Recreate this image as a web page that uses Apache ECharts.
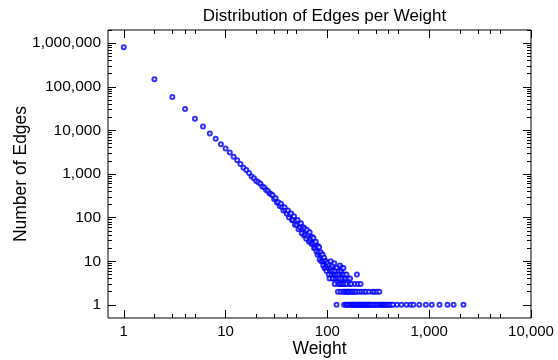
<!DOCTYPE html>
<html>
<head>
<meta charset="utf-8">
<script src="https://cdn.jsdelivr.net/npm/echarts@6/dist/echarts.min.js"></script>
<style>
  html, body { margin: 0; padding: 0; background: #fff; }
  #chart { width: 558px; height: 360px; }
</style>
</head>
<body>
<div id="chart"></div>
<script>
// weight of an edge -> number of edges with that weight
const weights = [
  1, 2, 3, 4, 5, 6, 7, 8, 9, 10, 11, 12, 13, 14, 15, 16, 17, 18, 19, 20,
  21, 22, 23, 24, 25, 26, 27, 28, 29, 30, 31, 32, 33, 34, 35, 36, 37, 38, 39, 40,
  41, 42, 43, 44, 45, 46, 47, 48, 49, 50, 51, 52, 53, 54, 55, 56, 57, 58, 59, 60,
  61, 62, 63, 64, 65, 66, 67, 68, 69, 70, 71, 72, 73, 74, 75, 76, 77, 78, 79, 80,
  81, 82, 83, 84, 85, 86, 87, 88, 89, 90, 91, 92, 93, 94, 95, 96, 97, 98, 99, 100,
  101, 102, 103, 104, 105, 106, 107, 108, 109, 110, 111, 112, 113, 114, 115, 116, 117, 118, 119, 120,
  121, 122, 123, 124, 125, 126, 127, 128, 129, 130, 131, 132, 133, 134, 135, 136, 137, 138, 139, 140,
  141, 142, 143, 144, 145, 146, 147, 148, 149, 150, 151, 152, 153, 154, 155, 156, 157, 158, 160, 161,
  163, 164, 166, 167, 168, 170, 172, 173, 175, 176, 178, 180, 182, 184, 186, 187, 189, 191, 193, 195,
  196, 199, 200, 202, 204, 206, 209, 212, 213, 216, 218, 221, 224, 228, 231, 234, 238, 240, 243, 247,
  251, 255, 257, 260, 265, 270, 277, 280, 285, 290, 296, 302, 307, 312, 318, 324, 330, 337, 345, 352,
  360, 368, 377, 387, 398, 410, 425, 442, 483, 533, 599, 658, 700, 799, 927, 1060, 1262, 1514, 1737, 2170
];
const edges = [
  809000, 148000, 58000, 31000, 18500, 12200, 8500, 6400, 4800, 3850, 3100, 2500, 2080, 1700, 1400, 1230, 1050, 880, 800, 690,
  650, 600, 520, 490, 430, 410, 360, 345, 324, 269, 281, 221, 225, 185, 209, 172, 145, 172, 144, 122,
  145, 101, 118, 124, 87, 89, 107, 69, 84, 68, 88, 54, 72, 59, 74, 44, 54, 60, 39, 56,
  40, 33, 52, 38, 42, 28, 46, 29, 33, 25, 36, 26, 34, 20, 26, 20, 28, 17, 22, 14,
  22, 16, 21, 11, 14, 16, 10, 14, 10, 14, 8, 10, 12, 7, 10, 7, 10, 6, 8, 9,
  9, 7, 5, 8, 4, 7, 6, 10, 7, 5, 6, 8, 4, 4, 6, 5, 9, 3, 5, 6,
  4, 5, 1, 7, 4, 5, 2, 3, 6, 4, 5, 3, 8, 4, 2, 6, 3, 5, 7, 3,
  4, 5, 2, 7, 3, 1, 5, 2, 4, 3, 4, 1, 2, 5, 3, 1, 2, 1, 4, 2,
  2, 1, 3, 4, 1, 2, 3, 1, 2, 1, 1, 2, 1, 1, 3, 2, 1, 1, 2, 5,
  1, 3, 1, 1, 2, 1, 1, 3, 1, 2, 1, 1, 1, 2, 1, 1, 1, 2, 1, 1,
  1, 1, 2, 1, 1, 1, 2, 1, 1, 2, 1, 1, 2, 1, 1, 2, 1, 1, 1, 1,
  1, 1, 1, 1, 1, 1, 1, 1, 1, 1, 1, 1, 1, 1, 1, 1, 1, 1, 1, 1
];

const xMajor = [1, 10, 100, 1000, 10000];
const xMinor = [2, 3, 4, 5, 20, 30, 40, 50, 200, 300, 400, 500, 2000, 3000, 4000, 5000];
const yMajor = [1, 10, 100, 1000, 10000, 100000, 1000000];
const yMinor = [];
for (let d = 1; d <= 1000000; d *= 10) {
  for (let k = 2; k <= 9; k++) yMinor.push(k * d);
}

const font = 'Liberation Sans';
const fmt = v => String(Math.round(v)).replace(/\B(?=(\d{3})+(?!\d))/g, ',');

const chart = echarts.init(document.getElementById('chart'));

function xAx(pos, ticks, len, withLabels) {
  return {
    type: 'log', position: pos, min: 0.7, max: 10000,
    axisLine: { show: false },
    splitLine: { show: false },
    axisTick: { show: true, inside: true, length: len, customValues: ticks, lineStyle: { color: '#000' } },
    axisLabel: withLabels
      ? { show: true, customValues: xMajor, formatter: fmt, color: '#000', fontSize: 15, fontFamily: font, margin: 6 }
      : { show: false },
    name: withLabels ? 'Weight' : '',
    nameLocation: 'middle', nameGap: 22, nameMoveOverlap: false,
    nameTextStyle: { color: '#000', fontSize: 17.5, fontFamily: font }
  };
}
function yAx(pos, ticks, len, withLabels) {
  return {
    type: 'log', position: pos, min: 0.5, max: 2000000,
    axisLine: { show: false },
    splitLine: { show: false },
    axisTick: { show: true, inside: true, length: len, customValues: ticks, lineStyle: { color: '#000' } },
    axisLabel: withLabels
      ? { show: true, customValues: yMajor, formatter: fmt, color: '#000', fontSize: 15.5, fontFamily: font, margin: 7 }
      : { show: false },
    name: withLabels ? 'Number of Edges' : '',
    nameLocation: 'middle', nameGap: 78, nameMoveOverlap: false,
    nameTextStyle: { color: '#000', fontSize: 17.5, fontFamily: font }
  };
}

chart.setOption({
  animation: false,
  backgroundColor: '#fff',
  title: {
    text: 'Distribution of Edges per Weight',
    left: 319.5, top: 3, textAlign: 'center',
    textStyle: { color: '#000', fontSize: 17, fontWeight: 'normal', fontFamily: font }
  },
  grid: {
    left: 108, right: 27, top: 30, bottom: 42,
    containLabel: false, outerBoundsMode: 'none',
    show: true, borderColor: '#000', borderWidth: 1
  },
  xAxis: [
    xAx('bottom', xMajor, 8, true),
    xAx('bottom', xMinor, 4, false),
    xAx('top', xMajor, 8, false),
    xAx('top', xMinor, 4, false)
  ],
  yAxis: [
    yAx('left', yMajor, 8, true),
    yAx('left', yMinor, 4, false),
    yAx('right', yMajor, 8, false),
    yAx('right', yMinor, 4, false)
  ],
  series: [
    {
      type: 'scatter',
      xAxisIndex: 0, yAxisIndex: 0,
      symbol: 'emptyCircle',
      symbolSize: 4,
      itemStyle: { color: '#0000ff', borderColor: '#0000ff', borderWidth: 0.9 },
      data: weights.map((w, i) => [w, edges[i]])
    }
  ]
});
</script>
</body>
</html>
